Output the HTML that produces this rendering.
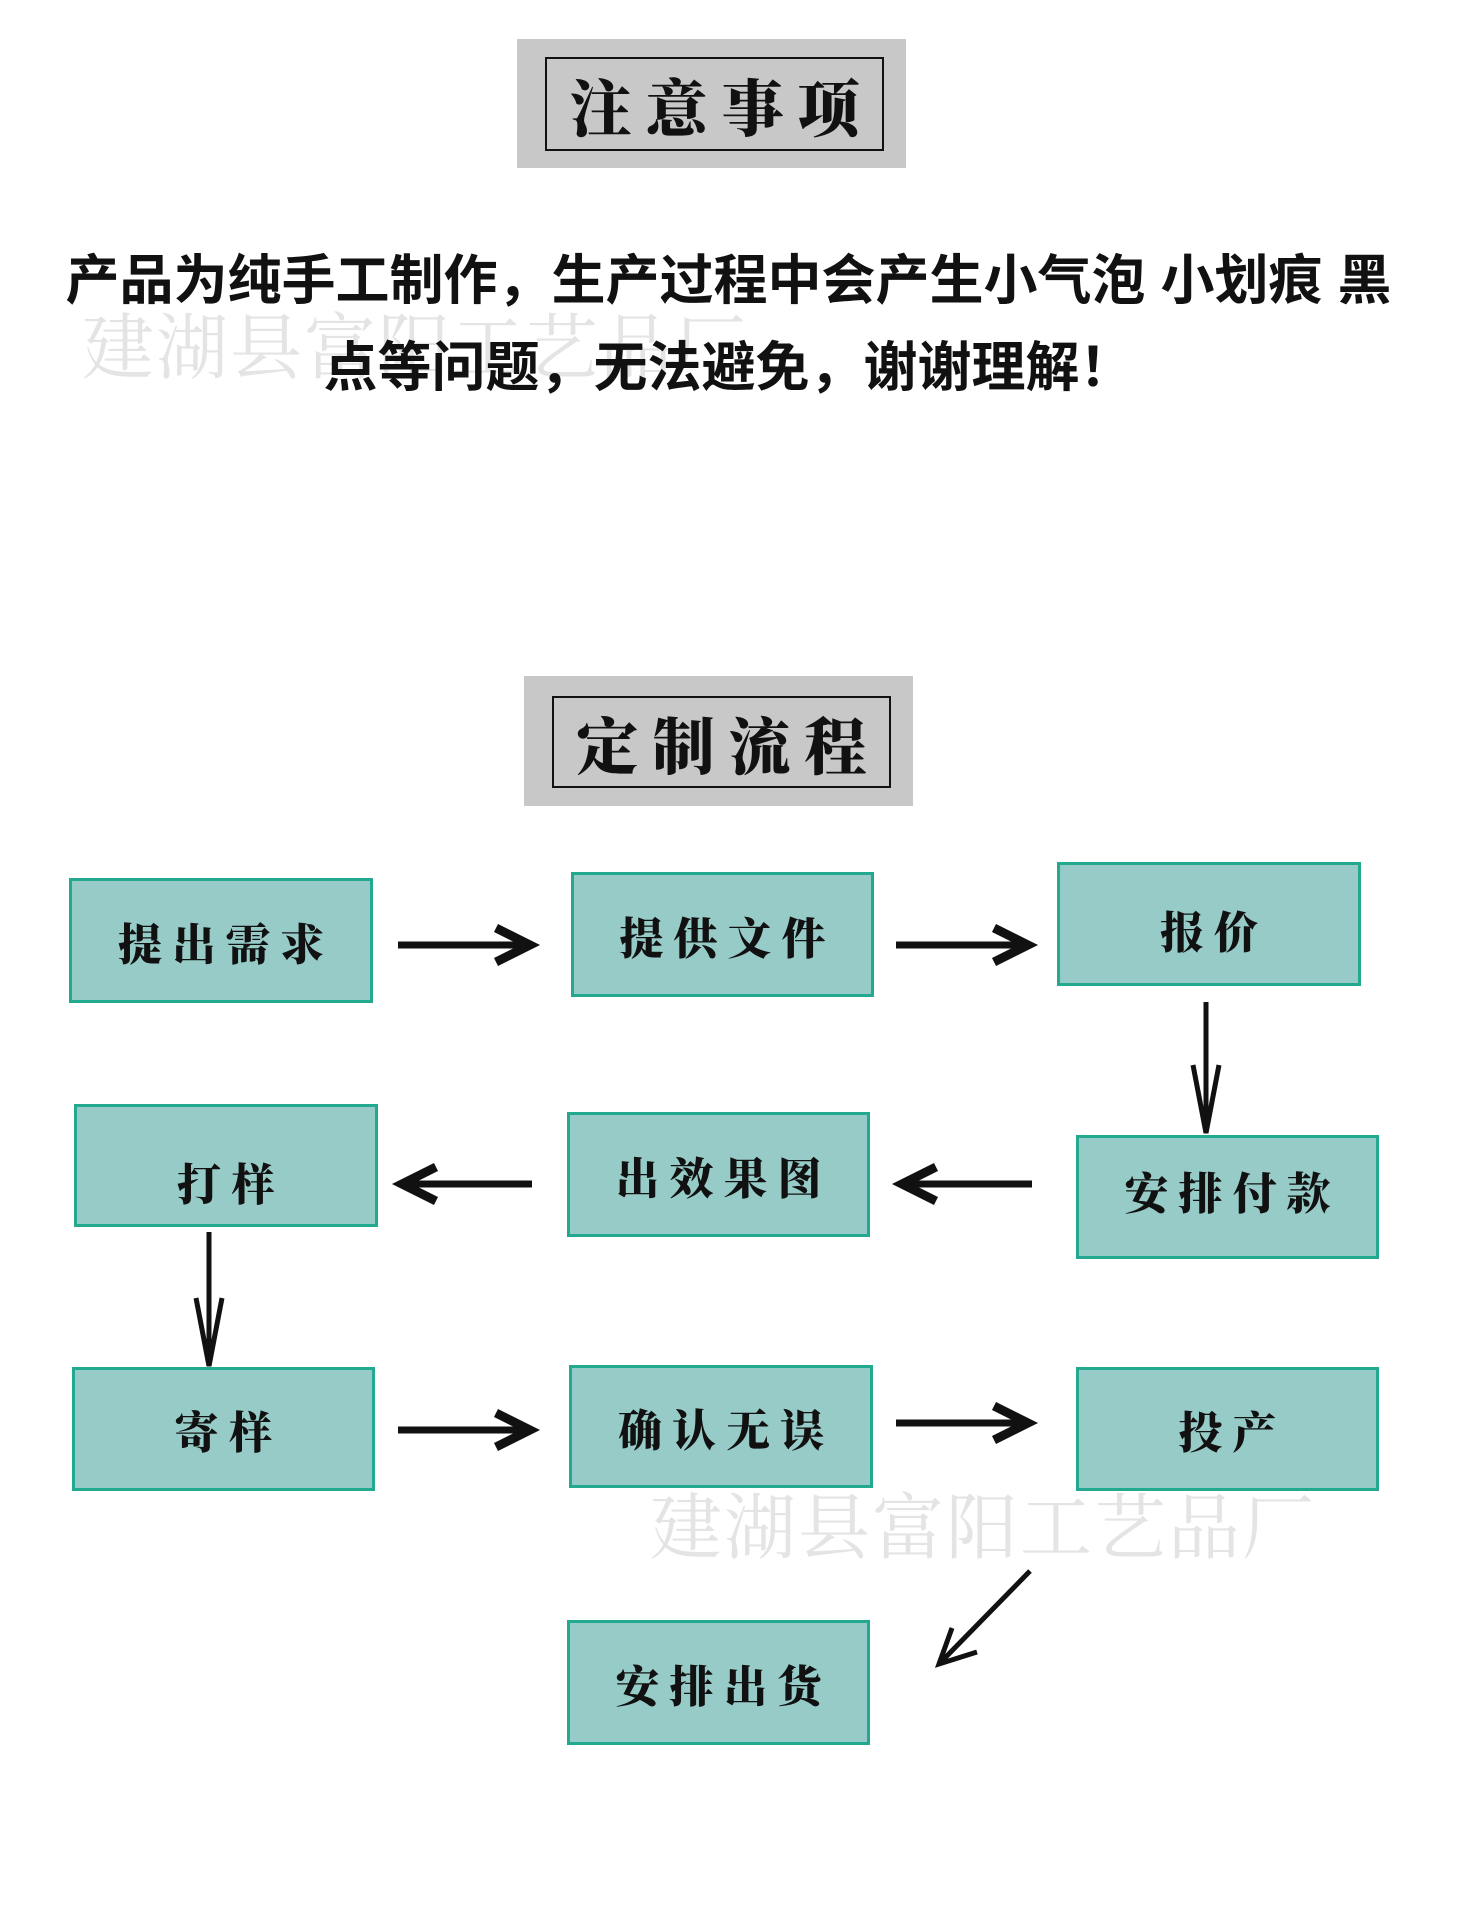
<!DOCTYPE html>
<html><head><meta charset="utf-8"><style>
body{margin:0;width:1457px;height:1920px;background:#fff;position:relative;overflow:hidden;font-family:"Liberation Sans","Noto Sans CJK SC",sans-serif}
.g{position:absolute;background:#c8c8c8}
.in{position:absolute;border:2px solid #111;box-sizing:border-box;display:flex;align-items:center;justify-content:center;font-family:"Noto Serif CJK SC","Noto Sans CJK SC",serif;font-weight:900;font-size:62px;letter-spacing:14px;padding-left:14px;color:#111}
.b{position:absolute;background:#96cbc7;border:3px solid #22a98f;box-sizing:border-box;display:flex;align-items:center;justify-content:center;font-family:"Noto Serif CJK SC","Noto Sans CJK SC",serif;font-weight:900;font-size:44px;letter-spacing:10px;padding-left:10px;color:#111}
.p{position:absolute;left:0;width:1457px;text-align:center;font-weight:700;font-size:54px;color:#111;font-family:"Liberation Sans","Noto Sans CJK SC",sans-serif}
.w{position:absolute;color:#e4e4e4;font-size:72px;font-family:"Liberation Serif","Noto Serif CJK SC",serif;letter-spacing:2px}
</style></head><body>
<div class="w" style="left:82px;top:290px">建湖县富阳工艺品厂</div>
<div class="w" style="left:650px;top:1470px">建湖县富阳工艺品厂</div>
<div class="g" style="left:517px;top:39px;width:389px;height:129px"></div>
<div class="in" style="left:545px;top:57px;width:339px;height:94px">注意事项</div>
<div class="p" style="top:236px;">产品为纯手工制作，生产过程中会产生小气泡 小划痕 黑</div>
<div class="p" style="top:323px;">点等问题，无法避免，谢谢理解！</div>
<div class="g" style="left:524px;top:676px;width:389px;height:130px"></div>
<div class="in" style="left:552px;top:696px;width:339px;height:92px">定制流程</div>
<div class="b" style="left:69px;top:878px;width:304px;height:125px">提出需求</div>
<div class="b" style="left:571px;top:872px;width:303px;height:125px">提供文件</div>
<div class="b" style="left:1057px;top:862px;width:304px;height:124px;padding-top:10px">报价</div>
<div class="b" style="left:1076px;top:1135px;width:303px;height:124px;align-items:flex-start;padding-top:20px">安排付款</div>
<div class="b" style="left:567px;top:1112px;width:303px;height:125px">出效果图</div>
<div class="b" style="left:74px;top:1104px;width:304px;height:123px;padding-top:30px">打样</div>
<div class="b" style="left:72px;top:1367px;width:303px;height:124px">寄样</div>
<div class="b" style="left:569px;top:1365px;width:304px;height:123px">确认无误</div>
<div class="b" style="left:1076px;top:1367px;width:303px;height:124px">投产</div>
<div class="b" style="left:567px;top:1620px;width:303px;height:125px">安排出货</div>
<svg width="1457" height="1920" style="position:absolute;left:0;top:0" fill="none" stroke="#111">
<g stroke-width="7">
<path d="M398 945H528"/><path d="M496 928L530 945L496 962" stroke-width="9"/>
<path d="M896 945H1026"/><path d="M994 928L1028 945L994 962" stroke-width="9"/>
<path d="M904 1184H1032"/><path d="M936 1167L902 1184L936 1201" stroke-width="9"/>
<path d="M404 1184H532"/><path d="M436 1167L402 1184L436 1201" stroke-width="9"/>
<path d="M398 1430H528"/><path d="M496 1413L530 1430L496 1447" stroke-width="9"/>
<path d="M896 1423H1026"/><path d="M994 1406L1028 1423L994 1440" stroke-width="9"/>
</g>
<g stroke-width="5">
<path d="M1206 1002V1133"/><path d="M1193 1065L1206 1133L1219 1065"/>
<path d="M209 1232V1366"/><path d="M196 1298L209 1366L222 1298"/>
<path d="M1030 1571L939 1664"/><path d="M952 1628L939 1664L977 1652"/>
</g>
</svg>
</body></html>
